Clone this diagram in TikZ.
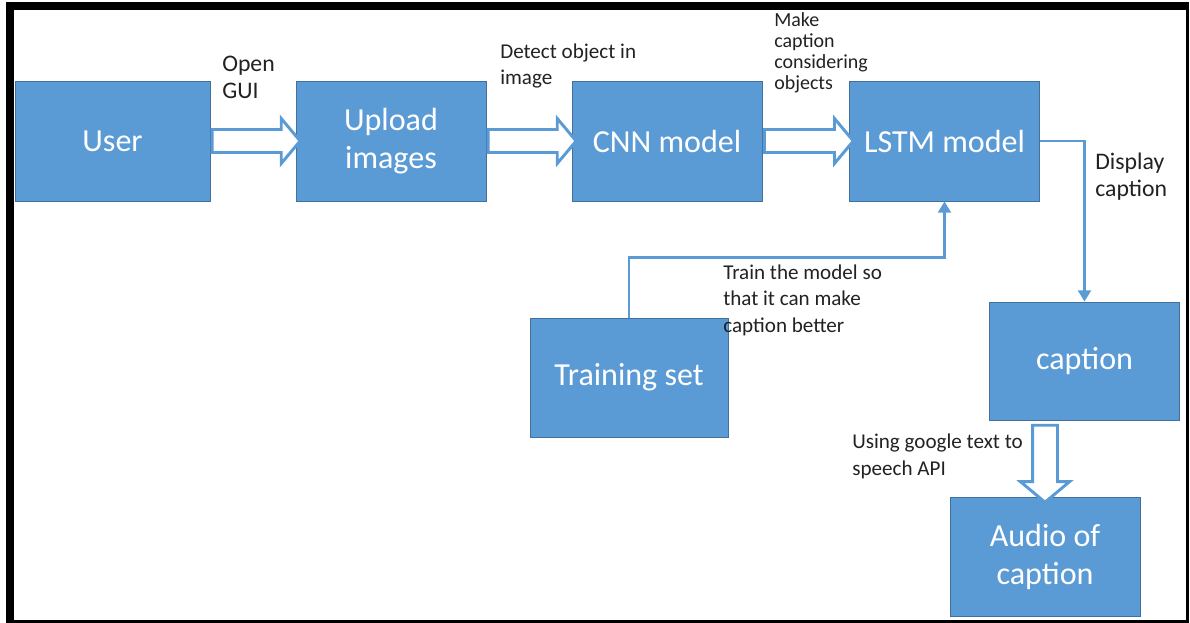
\documentclass[tikz,border=0pt]{standalone}
\usepackage{fontspec}
\setmainfont{Carlito}
\usetikzlibrary{shapes.arrows,arrows.meta}
\definecolor{boxblue}{HTML}{5B9BD5}
\definecolor{boxedge}{HTML}{41719C}
\definecolor{notegray}{HTML}{222222}
\begin{document}
\begin{tikzpicture}
        [x=0.025cm, y=-0.025cm,
        block/.style={rectangle, draw=boxedge, line width=0.5pt, fill=boxblue, text=white,
                minimum width=4.75cm, minimum height=3cm, align=center,
                font=\fontsize{22.8}{27}\selectfont},
        fatarrow/.style={single arrow, draw=boxblue, line width=2.1pt, fill=white,
                inner xsep=0pt, inner ysep=0.25cm, text height=0pt, text depth=0pt,
                minimum width=1.05cm, single arrow head extend=0.275cm, single arrow tip angle=100},
        downarrow/.style={fatarrow, shape border rotate=270, inner xsep=0.275cm, inner ysep=0pt,
                minimum width=1.15cm, single arrow head extend=0.3cm},
        conn/.style={boxblue, line width=2.1pt, -{Triangle[length=8pt,width=9pt]}},
        note/.style={anchor=base west, inner sep=0pt, align=left, text=notegray},
        bignote/.style={note, font=\fontsize{16.9}{19.9}\selectfont},
        smallnote/.style={note, font=\fontsize{15}{18.5}\selectfont}]

        \useasboundingbox (0,0) rectangle (1190,623);

        % frame round the picture
        \fill[black] (6,2) rectangle (1188.5,10);
        \fill[black] (6,2) rectangle (14,622.5);
        \fill[black] (1186,2) rectangle (1188.5,622.5);
        \fill[black] (6,620) rectangle (1188.5,622.5);

        \node[block, minimum width=4.875cm] (user) at (112.5,141) {User};
        \node[block] (upload) at (391,141) {Upload\\images};
        \node[block] (cnn) at (667,141) {CNN model};
        \node[block] (lstm) at (944.5,141) {LSTM model};
        \node[block, minimum width=4.95cm, minimum height=2.975cm] (train) at (629,377.5) {Training set};
        \node[block, minimum height=2.95cm] (caption) at (1084.5,361) {caption};
        \node[block, minimum height=2.975cm] (audio) at (1045,556.5) {Audio of\\caption};

        % hollow block arrows
        \path (user.east) -- (upload.west) node[fatarrow, pos=0.48, minimum height=2.2cm] {};
        \path (upload.east) -- (cnn.west) node[fatarrow, pos=0.48, minimum height=2.2cm] {};
        \path (cnn.east) -- (lstm.west) node[fatarrow, pos=0.48, minimum height=2.225cm] {};
        \path (caption.south -| audio.north) -- (audio.north)
                node[downarrow, midway, minimum height=1.925cm] {};

        % thin connectors
        \draw[conn] (lstm.east) -| (caption.north);
        \draw[conn] (train.north) -- ++(0,-60) -| (lstm.south);

        % labels (placed at the baseline of their last line)
        \node[bignote] (opengui) at (222,99) {Open\\GUI};
        \node[smallnote] (detect) at (500,85) {Detect object in\\image};
        \node[note, font=\fontsize{14.2}{15}\selectfont] (make) at (774,90) {Make\\caption\\considering\\objects};
        \node[bignote] (display) at (1095,197) {Display\\caption};
        \node[smallnote] (trainnote) at (723,332) {Train the model so\\that it can make\\caption better};
        \node[smallnote] (speech) at (852,475) {Using google text to\\speech API};

\end{tikzpicture}
\end{document}
